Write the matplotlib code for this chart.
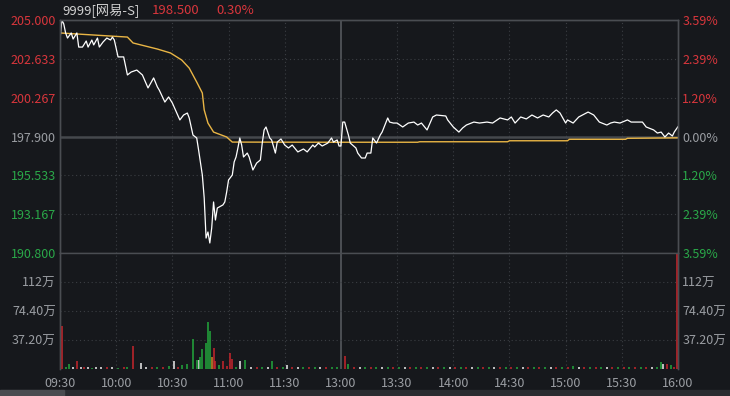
import matplotlib
matplotlib.use("Agg")
import matplotlib.pyplot as plt

plt.rcParams['font.family'] = ['Noto Sans CJK SC', 'DejaVu Sans']

# ---- data (minute index 0..330, 09:30 -> 16:00, lunch break removed) ----
price_min = [0, 1, 2, 3, 4, 6, 7, 9, 10, 12, 14, 15, 17, 18, 20, 21, 23, 25, 27, 28,
             29, 31, 34, 36, 38, 41, 44, 47, 50, 52, 53, 56, 58, 60, 64, 66, 68, 69, 71, 73,
             74, 76, 77, 78, 79, 80, 81, 82, 83, 84, 87, 88, 89, 90, 92, 93, 94, 95, 96, 97,
             98, 100, 101, 103, 105, 107, 108, 109, 110, 112, 113, 115, 116, 118, 120, 122, 124, 127, 130, 132,
             135, 136, 138, 140, 143, 145, 146, 148, 149, 150,
             151, 152, 154, 155, 158, 159, 161, 163, 164, 166, 167, 169, 171, 172, 175, 176, 178, 180, 183, 186,
             189, 191, 193, 196, 199, 201, 206, 207, 210, 213, 215, 217, 221, 224, 228, 231, 235, 239, 241, 243,
             246, 249, 252, 255, 258, 261, 263, 265, 267, 270, 271, 274, 277, 279, 282, 285, 288, 292, 294, 296,
             299, 303, 305, 308, 311, 313, 317, 319, 321, 323, 325, 327, 328, 330]
price = [203.78, 205.00, 204.76, 204.21, 203.90, 204.21, 203.84, 204.21, 203.35, 203.35,
         203.72, 203.35, 203.78, 203.48, 203.90, 203.35, 203.66, 203.90, 203.78, 203.96,
         203.78, 202.75, 202.75, 201.65, 201.83, 201.95, 201.65, 200.86, 201.47, 200.92,
         200.73, 200.00, 200.31, 199.94, 198.91, 199.21, 199.33, 199.03, 197.99, 197.81,
         197.08, 195.55, 194.15, 191.71, 192.08, 191.41, 192.32, 193.91, 192.81, 193.54,
         193.73, 193.91, 194.52, 195.25, 195.55, 196.35, 196.65, 197.20, 197.81, 197.38,
         196.65, 196.89, 196.65, 195.86, 196.28, 196.47, 197.50, 198.30, 198.48, 197.81,
         197.69, 196.89, 197.56, 197.75, 197.38, 197.20, 197.38, 196.96, 197.14, 196.96,
         197.38, 197.26, 197.50, 197.32, 197.50, 197.81, 197.56, 197.69, 197.32, 197.32,
         198.78, 198.78, 197.99, 197.50, 197.20, 196.89, 196.59, 196.59, 196.89, 196.89,
         197.81, 197.50, 197.99, 198.17, 199.03, 198.78, 198.72, 198.72, 198.48, 198.72,
         198.78, 198.60, 198.72, 198.30, 199.09, 199.21, 199.15, 198.91, 198.48, 198.17,
         198.42, 198.60, 198.78, 198.72, 198.78, 198.72, 199.03, 198.91, 199.09, 198.72,
         199.09, 198.97, 199.21, 199.03, 199.21, 199.09, 199.33, 199.52, 199.33, 198.72,
         198.91, 198.72, 199.09, 199.21, 199.39, 199.21, 198.78, 198.60, 198.72, 198.78,
         198.72, 198.91, 198.78, 198.78, 198.78, 198.48, 198.30, 198.11, 198.17, 197.87,
         198.11, 197.93, 198.17, 198.50]

avg_min = [0, 36, 39, 52, 59, 65, 69, 73, 76, 77, 79, 82, 89, 92, 144, 191, 192, 239, 240,
           271, 272, 302, 303, 330]
avg_price = [204.21, 203.96, 203.60, 203.23, 202.99, 202.56, 202.07, 201.22, 200.55, 199.52,
             198.72, 198.17, 197.87, 197.56, 197.55, 197.55, 197.58, 197.58, 197.64,
             197.64, 197.73, 197.73, 197.79, 197.82]

# volume bars (万): minute, value, colour code r=up g=down w=flat o=mixed
vol_min = [0, 4, 8, 38, 42, 60, 64, 67, 70, 72, 73, 74, 75, 77, 78, 79, 80, 81, 82, 86,
           90, 91, 95, 98, 112, 120, 151, 153, 320, 321, 323, 325, 330,
           2, 6, 10, 12, 14, 16, 18, 21, 24, 27, 30, 33, 35, 45, 48, 51, 54, 57, 62,
           84, 88, 93, 101, 104, 107, 110, 115, 118, 123, 126, 129, 132, 135, 138, 141, 144, 147,
           156, 159, 162, 165, 168, 171, 174, 177, 180, 183, 186, 189, 192, 195, 198, 201, 204,
           207, 210, 213, 216, 219, 222, 225, 228, 231, 234, 237, 240, 243, 246, 249, 252, 255,
           258, 261, 264, 267, 270, 273, 276, 279, 282, 285, 288, 291, 294, 297, 300, 303, 306,
           309, 312, 315, 318, 327]
vol = [55, 6, 10, 29, 8, 10, 5, 6, 38, 11, 11, 15, 26, 33, 60, 49, 16, 27, 10, 10,
       21, 13, 10, 12, 10, 5, 17, 6, 9, 6, 6, 5, 160,
       2, 3, 2, 2.5, 2, 1.5, 2, 3, 2, 2, 1.5, 2.5, 2, 3, 2, 2.5, 3, 4, 3,
       5, 4, 3, 2.5, 3, 2, 2.5, 3, 2, 2.5, 2, 3, 2, 2.5, 2, 3, 2, 2,
       2.5, 2, 3, 2, 2, 2.5, 2, 2, 3, 2, 2.5, 2, 3, 2, 2, 2.5, 2,
       2, 3, 2, 2.5, 2, 3, 2, 2.5, 2, 2, 2.5, 3, 2, 2, 2.5, 2, 3,
       2, 2.5, 2, 3, 2, 4, 2, 2.5, 2, 2, 3, 2, 2.5, 2, 2, 3, 2,
       2.5, 2, 3, 2, 3]
vol_col = list("rgrrwwggggwgggggorrrrrwggwrgg" "wrgr") + list(
    "gwwrwgwwrwg" "rgwrgrg"
    "rgrgwrgwrgrwgrgwrg"
    "grwgrgwgrgwrgrgwr"
    "gwrgrwgrgwrgrgwrg"
    "rgwrgrgwrgrgwrgrg"
    "rgrwg")

price_ticks = [205.000, 202.633, 200.267, 197.900, 195.533, 193.167, 190.800]
pct_labels = ["3.59%", "2.39%", "1.20%", "0.00%", "1.20%", "2.39%", "3.59%"]
vol_ticks = [37.2, 74.4, 111.6]
vol_labels = ["37.20万", "74.40万", "112万"]
time_labels = ["09:30", "10:00", "10:30", "11:00", "11:30", "13:00",
               "13:30", "14:00", "14:30", "15:00", "15:30", "16:00"]
prev_close = 197.900

# ---- colours ----
BG = "#16181c"
RED = "#d9363c"
GREEN = "#2aa849"
GRAY = "#9b9ea3"
GRID = "#3b3e43"
colmap = {"r": "#c8262c", "g": "#22a83c", "w": "#eeeeee", "o": "#c8862a"}

fig = plt.figure(figsize=(7.3, 3.96), dpi=100, facecolor=BG)
ax = fig.add_axes([60 / 730, 1 - 253 / 396, 618 / 730, 233 / 396], facecolor=BG)
axv = fig.add_axes([60 / 730, 1 - 369 / 396, 618 / 730, 116 / 396], facecolor=BG)

xt = list(range(0, 331, 30))

# price panel
ax.set_xlim(0, 330)
ax.set_ylim(190.800, 205.000)
for t in xt[1:-1]:
    if t == 150:
        ax.axvline(t, color="#55585d", lw=1.2)
    else:
        ax.axvline(t, color=GRID, lw=0.8, ls=(0, (1, 2.5)))
for p in price_ticks[1:-1]:
    if p == prev_close:
        ax.axhline(p, color="#45484d", lw=1.8)
    else:
        ax.axhline(p, color=GRID, lw=0.8, ls=(0, (1, 2.5)))
ax.plot(avg_min, avg_price, color="#e9b545", lw=1.0)
ax.plot(price_min, price, color="white", lw=0.9)

ax.set_yticks(price_ticks)
ax.set_yticklabels([f"{p:.3f}" for p in price_ticks])
ax.set_xticks([])
ax.tick_params(axis="y", length=0, pad=3, labelsize=9)
for lbl, p in zip(ax.get_yticklabels(), price_ticks):
    lbl.set_color(RED if p > prev_close else (GRAY if p == prev_close else GREEN))

axr = ax.twinx()
axr.set_ylim(ax.get_ylim())
axr.set_yticks(price_ticks)
axr.set_yticklabels(pct_labels)
axr.tick_params(axis="y", length=0, pad=3, labelsize=9)
for lbl, p in zip(axr.get_yticklabels(), price_ticks):
    lbl.set_color(RED if p > prev_close else (GRAY if p == prev_close else GREEN))

for a in (ax, axr):
    for s in a.spines.values():
        s.set_color("#4a4d52")
        s.set_linewidth(1.0)

# volume panel
axv.set_xlim(0, 330)
axv.set_ylim(0, 148.8)
for t in xt[1:-1]:
    if t == 150:
        axv.axvline(t, color="#55585d", lw=1.2)
    else:
        axv.axvline(t, color=GRID, lw=0.8, ls=(0, (1, 2.5)))
for v in vol_ticks:
    axv.axhline(v, color=GRID, lw=0.8, ls=(0, (1, 2.5)))
# draw each minute's bar inside its minute slot
bar_x = [min(m + 1.0, 329.4) for m in vol_min]
axv.vlines(bar_x, 0, vol, colors=[colmap[c] for c in vol_col], lw=1.1, zorder=3)

axv.set_yticks(vol_ticks)
axv.set_yticklabels(vol_labels)
axv.tick_params(axis="y", length=0, pad=3, labelsize=9, colors=GRAY)
axv.set_xticks(xt)
axv.set_xticklabels(time_labels)
axv.tick_params(axis="x", length=0, pad=6, labelsize=9, colors=GRAY)

axvr = axv.twinx()
axvr.set_ylim(axv.get_ylim())
axvr.set_yticks(vol_ticks)
axvr.set_yticklabels(vol_labels)
axvr.tick_params(axis="y", length=0, pad=3, labelsize=9, colors=GRAY)

for a in (axv, axvr):
    for s in a.spines.values():
        s.set_color("#4a4d52")
        s.set_linewidth(1.0)
    a.spines["top"].set_visible(False)
    a.spines["bottom"].set_visible(False)

# header
fig.text(62 / 730, 1 - 10 / 396, "9999[网易-S]", color="#d2d2d2", fontsize=9.5, va="center")
fig.text(152 / 730, 1 - 10 / 396, "198.500", color=RED, fontsize=9.5, va="center")
fig.text(216 / 730, 1 - 10 / 396, "0.30%", color=RED, fontsize=9.5, va="center")

# bottom strip
fig.patches.append(plt.Rectangle((0, 0), 1, 6 / 396, transform=fig.transFigure,
                                 color="#2a2c30", zorder=0))
fig.patches.append(plt.Rectangle((0, 0), 64 / 730, 6 / 396, transform=fig.transFigure,
                                 color="#4a4c50", zorder=0))

fig.savefig("out.png", dpi=100, facecolor=BG)
